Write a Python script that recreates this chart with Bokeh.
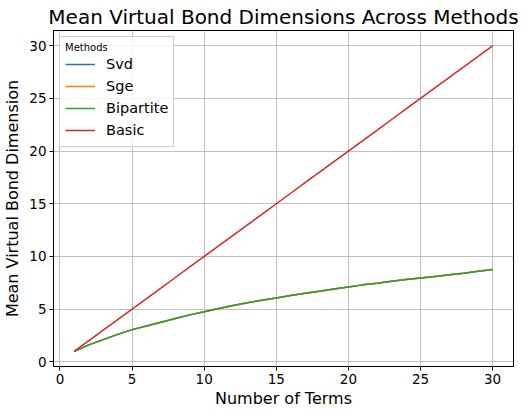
from bokeh.plotting import figure
from bokeh.models import Range1d, FixedTicker, Legend, LegendItem
from bokeh.embed import file_html
from bokeh.resources import INLINE

terms = list(range(1, 31))
svd = [1.0, 1.6, 2.1, 2.6, 3.05, 3.4, 3.75, 4.1, 4.45, 4.75, 5.05, 5.35, 5.6, 5.85, 6.05,
       6.3, 6.5, 6.7, 6.9, 7.1, 7.3, 7.45, 7.65, 7.8, 7.95, 8.1, 8.25, 8.4, 8.6, 8.75]
sge = list(svd)
bipartite = list(svd)
basic = [float(t) for t in terms]

series_names = ["Svd", "Sge", "Bipartite", "Basic"]
series_vals = [svd, sge, bipartite, basic]
colors = ["#1f77b4", "#ff7f0e", "#2ca02c", "#d62728"]

p = figure(frame_width=460, frame_height=336, output_backend="svg", toolbar_location=None,
           x_range=Range1d(-0.45, 31.45), y_range=Range1d(-0.45, 31.45),
           min_border_left=50, min_border_right=10, min_border_bottom=10, min_border_top=0)

p.title.text = "Mean Virtual Bond Dimensions Across Methods"
p.title.align = "center"
p.title.text_font = "DejaVu Sans"
p.title.text_font_size = "20px"
p.title.text_font_style = "normal"
p.title.text_color = "black"
p.title.standoff = 4

renderers = []
for name, vals, c in zip(series_names, series_vals, colors):
    r = p.line(terms, vals, line_color=c, line_width=1.5)
    renderers.append((name, r))

legend = Legend(items=[LegendItem(label=n, renderers=[r]) for n, r in renderers],
                location="top_left", title="Methods")
legend.title_text_font = "DejaVu Sans"
legend.title_text_font_size = "10px"
legend.title_text_font_style = "normal"
legend.title_text_color = "black"
legend.label_text_font = "DejaVu Sans"
legend.label_text_font_size = "14.5px"
legend.label_text_color = "black"
legend.border_line_color = "#cccccc"
legend.border_line_alpha = 1
legend.background_fill_alpha = 0.8
legend.margin = 6
legend.padding = 5
legend.spacing = 0
legend.glyph_width = 30
legend.label_height = 22
legend.glyph_height = 22
legend.label_standoff = 11
legend.title_standoff = 0
p.add_layout(legend)

for ax in (p.xaxis, p.yaxis):
    ax.ticker = FixedTicker(ticks=[0, 5, 10, 15, 20, 25, 30])
    ax.major_label_text_font = "DejaVu Sans"
    ax.major_label_text_font_size = "13.5px"
    ax.major_label_text_color = "black"
    ax.axis_label_text_font = "DejaVu Sans"
    ax.axis_label_text_font_size = "16px"
    ax.axis_label_text_font_style = "normal"
    ax.axis_label_text_color = "black"
    ax.minor_tick_line_color = None
    ax.major_tick_out = 4
    ax.major_tick_in = 0
    ax.major_label_standoff = 3
    ax.axis_line_color = "black"
    ax.major_tick_line_color = "black"

p.xaxis.axis_label = "Number of Terms"
p.yaxis.axis_label = "Mean Virtual Bond Dimension"
p.xaxis.axis_label_standoff = 2
p.yaxis.axis_label_standoff = 4

p.outline_line_color = "black"
p.outline_line_alpha = 1
p.xgrid.grid_line_color = "#b0b0b0"
p.ygrid.grid_line_color = "#b0b0b0"
p.xgrid.grid_line_alpha = 0.8
p.ygrid.grid_line_alpha = 0.8

open("out.html", "w").write(file_html(p, INLINE))
